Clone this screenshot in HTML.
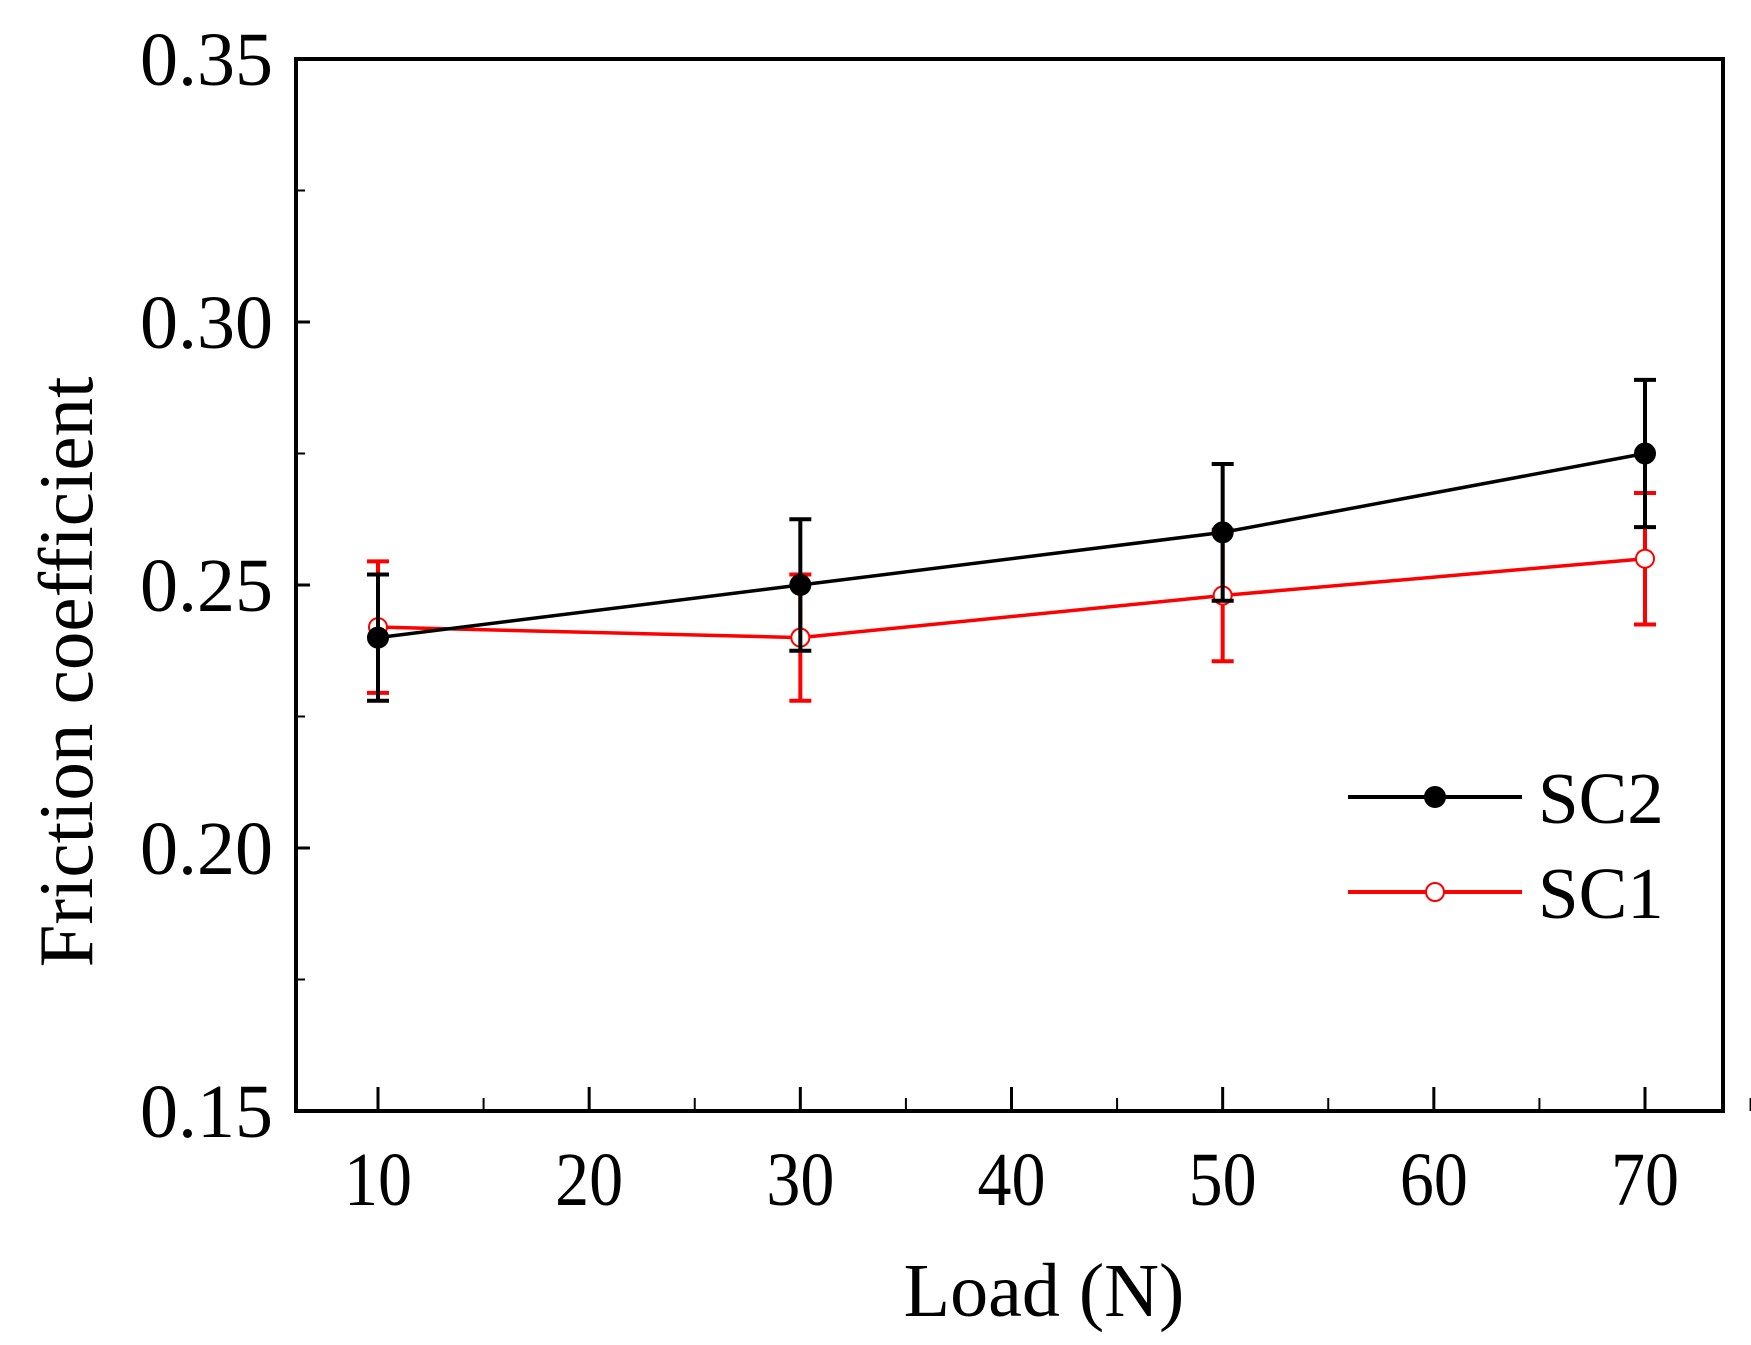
<!DOCTYPE html>
<html><head><meta charset="utf-8"><style>
html,body{margin:0;padding:0;background:#fff}
svg text{font-family:"Liberation Serif",serif;fill:#000}
</style></head><body>
<svg id="chart" width="1751" height="1340" viewBox="0 0 1751 1340" xmlns="http://www.w3.org/2000/svg">
<g id="axes"></g><g id="series"></g><g id="legend"></g>
</svg>
<script>
const loads = [10, 30, 50, 70];
const sc2Values = [0.240, 0.250, 0.260, 0.275];
const sc2Err = [0.012, 0.0125, 0.013, 0.014];
const sc1Values = [0.242, 0.240, 0.248, 0.255];
const sc1Err = [0.0125, 0.012, 0.0125, 0.0125];
const xTicks = [10, 20, 30, 40, 50, 60, 70];
const yTicks = [0.15, 0.20, 0.25, 0.30, 0.35];

const L=296,R=1723,T=59,B=1111;
const yMin=0.15,yMax=0.35;
const X=v=>378+(v-10)*(1645-378)/60;
const Y=v=>B-(v-yMin)/(yMax-yMin)*(B-T);
const NS='http://www.w3.org/2000/svg';
function mk(tag,attrs,parent){const e=document.createElementNS(NS,tag);for(const k in attrs)e.setAttribute(k,attrs[k]);parent.appendChild(e);return e;}
const axes=document.getElementById('axes');
const frame=mk('rect',{x:L,y:T,width:R-L,height:B-T,fill:'none',stroke:'#000','stroke-width':4},axes);


xTicks.forEach(t=>{
  const l=mk('line',{x1:X(t),x2:X(t),y1:B,y2:B-24,stroke:'#000','stroke-width':3},axes);
  
  
  const m=mk('line',{x1:X(t+5),x2:X(t+5),y1:B,y2:B-13,stroke:'#000','stroke-width':2},axes);
  
  
  const tx=mk('text',{x:0,y:0,'text-anchor':'middle','font-size':68,transform:`translate(${X(t)},1205) scale(1,1.12)`},axes);
  tx.textContent=t;
  
  
});
yTicks.forEach((t,i)=>{
  const l=mk('line',{x1:L,x2:L+14,y1:Y(t),y2:Y(t),stroke:'#000','stroke-width':3},axes);
  
  
  if(i<yTicks.length-1){
    const m=mk('line',{x1:L,x2:L+9,y1:Y(t+0.025),y2:Y(t+0.025),stroke:'#000','stroke-width':2},axes);
    
    
  }
  const tx=mk('text',{x:0,y:0,'text-anchor':'end','font-size':76,transform:`translate(273,${Y(t)+26})`},axes);
  tx.textContent=t.toFixed(2);
  
  
});
const xt=mk('text',{x:1044,y:1316,'text-anchor':'middle','font-size':76},axes);
xt.textContent='Load (N)';


const yt=mk('text',{x:0,y:0,'text-anchor':'middle','font-size':77,transform:'translate(92,672) rotate(-90)'},axes);
yt.textContent='Friction coefficient';



const ser=document.getElementById('series');
function drawSeries(name,vals,errs,color,filled){
  const g=mk('g',{},ser);
  
  
  const pl=mk('polyline',{points:loads.map((x,i)=>X(x)+','+Y(vals[i])).join(' '),fill:'none',stroke:color,'stroke-width':3.5},g);
  
  
  loads.forEach((x,i)=>{
    const cx=X(x),hi=Y(vals[i]+errs[i]),lo=Y(vals[i]-errs[i]);
    const eb=mk('path',{d:`M${cx},${hi}V${lo}M${cx-11},${hi}H${cx+11}M${cx-11},${lo}H${cx+11}`,stroke:color,'stroke-width':4,fill:'none'},g);
    
    
    const c=mk('circle',{cx:cx,cy:Y(vals[i]),r:filled?10:9,fill:filled?color:'#fff',stroke:color,'stroke-width':2},g);
    
    
  });
}
drawSeries('sc1',sc1Values,sc1Err,'#ff0000',false);
drawSeries('sc2',sc2Values,sc2Err,'#000',true);

const lg=document.getElementById('legend');
[['SC2','#000',true,797],['SC1','#ff0000',false,892]].forEach(([n,c,f,y])=>{
  const g=mk('g',{},lg);
  
  
  mk('line',{x1:1348,x2:1522,y1:y,y2:y,stroke:c,'stroke-width':4},g);
  mk('circle',{cx:1435,cy:y,r:f?10:9,fill:f?c:'#fff',stroke:c,'stroke-width':2},g);
  const t=mk('text',{x:1538,y:y+26,'font-size':73},g);
  t.textContent=n;
});
</script>
</body></html>
